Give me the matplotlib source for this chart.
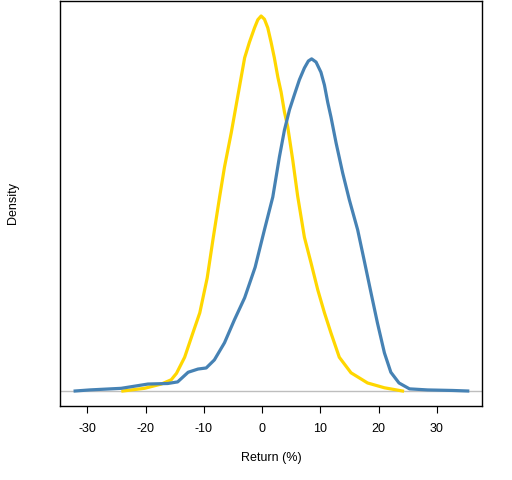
import matplotlib
matplotlib.use("Agg")
import matplotlib.pyplot as plt

plt.rcParams['font.family'] = ['Liberation Sans', 'DejaVu Sans']

# density estimates
yellow_x = [-23.9, -20.2, -17.3, -15.6, -14.7, -13.3, -11.9, -10.7, -9.43, -8.45,
            -7.3, -6.46, -5.3, -4.3, -3.0, -2.18, -1.3, -0.74, -0.17, 0.4,
            0.97, 1.54, 2.1, 2.7, 3.26, 3.83, 4.4, 5.26, 6.1, 7.26,
            8.4, 9.55, 10.7, 11.83, 13.25, 15.26, 18.1, 21.0, 24.1]
yellow_d = [0.0, 0.0005, 0.0013, 0.0021, 0.0033, 0.0063, 0.0108, 0.0146, 0.0211, 0.0282,
            0.0362, 0.0418, 0.0482, 0.0543, 0.0622, 0.0651, 0.0678, 0.0693, 0.0700, 0.0694,
            0.0678, 0.0651, 0.0622, 0.0586, 0.0558, 0.0521, 0.0493, 0.0431, 0.0364, 0.0287,
            0.0239, 0.0189, 0.0146, 0.0108, 0.0063, 0.0034, 0.0015, 0.0006, 0.0]

blue_x = [-32.1, -29.6, -24.2, -19.6, -16.2, -14.5, -12.7, -11.0, -9.6, -8.2,
          -6.46, -4.75, -3.0, -1.2, 0.4, 1.83, 2.97, 3.83, 4.7,
          5.54, 6.4, 7.26, 7.94, 8.5, 9.26, 10.1, 10.7, 11.26, 11.83,
          12.7, 13.83, 14.97, 16.4, 17.5, 18.7, 19.8, 21.0, 22.1, 23.5,
          25.3, 28.4, 32.7, 35.3]
blue_d = [0.0, 0.0002, 0.0005, 0.0013, 0.0014, 0.0017, 0.0035, 0.0041, 0.0043, 0.0058,
          0.0090, 0.0133, 0.0174, 0.0231, 0.0301, 0.0362, 0.0437, 0.0487, 0.0525,
          0.0553, 0.0581, 0.0603, 0.0616, 0.0620, 0.0614, 0.0595, 0.0571, 0.0539, 0.0511,
          0.0463, 0.0407, 0.0357, 0.0301, 0.0245, 0.0183, 0.0127, 0.0071, 0.0035, 0.0015,
          0.0004, 0.0002, 0.0001, 0.0]

xticks = [-30, -20, -10, 0, 10, 20, 30]

fig = plt.figure(figsize=(5.12, 4.8), dpi=100)
ax = fig.add_axes([60/512, 74/480, 422/512, 405/480])

ax.axhline(0, color='#bebebe', lw=1, zorder=1)
ax.plot(yellow_x, yellow_d, color='#ffd700', lw=2.3, solid_joinstyle='round', zorder=2)
ax.plot(blue_x, blue_d, color='#4682b4', lw=2.3, solid_joinstyle='round', zorder=3)

ax.set_xlim(-34.7, 37.75)
ax.set_ylim(-0.0028, 0.0728)
ax.set_xticks(xticks)
ax.set_xticklabels([str(t) for t in xticks])
ax.set_yticks([])
ax.tick_params(axis='x', length=5, width=0.8, pad=7, labelsize=9)
for s in ax.spines.values():
    s.set_linewidth(1)

ax.set_xlabel('Return (%)', fontsize=9)
ax.set_ylabel('Density', fontsize=9)
ax.xaxis.set_label_coords(0.5, -0.128)
ax.yaxis.set_label_coords(-0.111, 0.5)
ax.xaxis.label.set_va('center')
ax.yaxis.label.set_va('center')

fig.savefig('out.png', dpi=100)
